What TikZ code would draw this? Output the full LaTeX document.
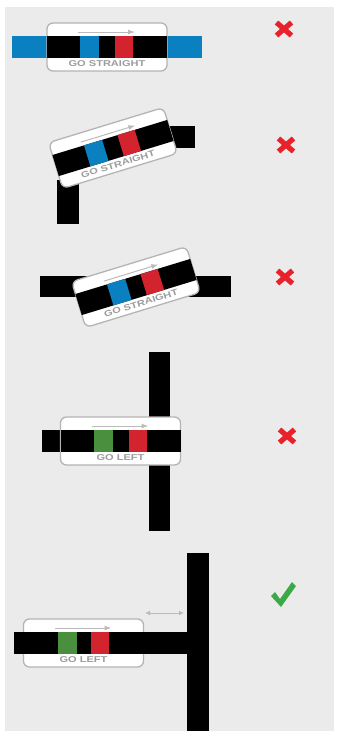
\documentclass[tikz,border=0pt]{standalone}
\usepackage{fontspec}
\setsansfont{Liberation Sans}
\usetikzlibrary{arrows.meta}
\definecolor{bggray}{HTML}{EBEBEB}
\definecolor{codeblue}{HTML}{0A80C0}
\definecolor{codered}{HTML}{D2232F}
\definecolor{codegreen}{HTML}{4A8F3E}
\definecolor{cardline}{HTML}{B4B4B4}
\definecolor{labelgray}{HTML}{9C9C9C}
\definecolor{hintgray}{HTML}{BBBBBB}
\definecolor{markred}{HTML}{E8212B}
\definecolor{markgreen}{HTML}{3AAA48}
\tikzset{
  cardbox/.style={fill=white, draw=cardline, line width=1.3pt, rounded corners=6pt},
  hintarrow/.style={draw=hintgray, line width=1pt},
  cardtext/.style={text=labelgray, font=\sffamily\bfseries\fontsize{8.5}{8.5}\selectfont, inner sep=0pt},
  wrongstroke/.style={draw=markred, line width=5.2pt},
}
\newcommand\mycard[6]{%
  \begin{scope}[shift={(#1,#2)},rotate=#3]
    \draw[cardbox] (-60,-24) rectangle (60,24);
    \fill[black] (-60,-11) rectangle (60,11);
    \fill[#4] (-27,-11) rectangle (-8,11);
    \fill[codered] (8,-11) rectangle (26,11);
    \draw[hintarrow, -{Latex[length=7pt,width=5pt]}] (-29,-15) -- (28,-15);
    \node[cardtext, transform shape] (#6) at (0,17) {\scalebox{1.3}[1]{#5}};
  \end{scope}}
\newcommand\mywrong[2]{%
  \begin{scope}[shift={(#1,#2)}]
    \draw[wrongstroke] (-7.5,-6.5) -- (7.5,6.5);
    \draw[wrongstroke] (-7.5,6.5) -- (7.5,-6.5);
  \end{scope}}
\begin{document}
\begin{tikzpicture}[x=1pt,y=-1pt]
  \useasboundingbox (0,0) rectangle (337,731);
  \fill[bggray] (5,7) rectangle (334,731);

  % panel 1
  \fill[codeblue] (12,36) rectangle (202,58);
  \mycard{107}{47}{0}{codeblue}{GO STRAIGHT}{t1}
  \mywrong{284}{29}

  % panel 2
  \fill[black] (57,180) rectangle (79,224);
  \fill[black] (150,126) rectangle (195,148);
  \mycard{113}{148}{17}{codeblue}{GO STRAIGHT}{t2}
  \mywrong{286}{145}

  % panel 3
  \fill[black] (40,276) rectangle (231,297);
  \mycard{136}{287}{17}{codeblue}{GO STRAIGHT}{t3}
  \mywrong{285}{277}

  % panel 4
  \fill[black] (149,352) rectangle (170,531);
  \fill[black] (42,430) rectangle (62,452);
  \mycard{120.5}{441}{0}{codegreen}{GO LEFT}{t4}
  \mywrong{287}{436}

  % panel 5
  \mycard{83.5}{643}{0}{codegreen}{GO LEFT}{t5}
  \fill[black] (14,632) rectangle (187,654);
  \fill[codegreen] (58,632) rectangle (77,654);
  \fill[codered] (91,632) rectangle (109,654);
  \fill[black] (187,553) rectangle (209,731);
  \coordinate (gapl) at (145,613);
  \coordinate (gapr) at (184,613);
  \draw[hintarrow, {Latex[length=5pt,width=5pt]}-{Latex[length=5pt,width=5pt]}] (gapl) -- (gapr);
  \fill[markgreen] (271,596) -- (275,592) -- (280,599) -- (292,582) -- (296,586) -- (281,607) -- cycle;
\end{tikzpicture}
\end{document}
